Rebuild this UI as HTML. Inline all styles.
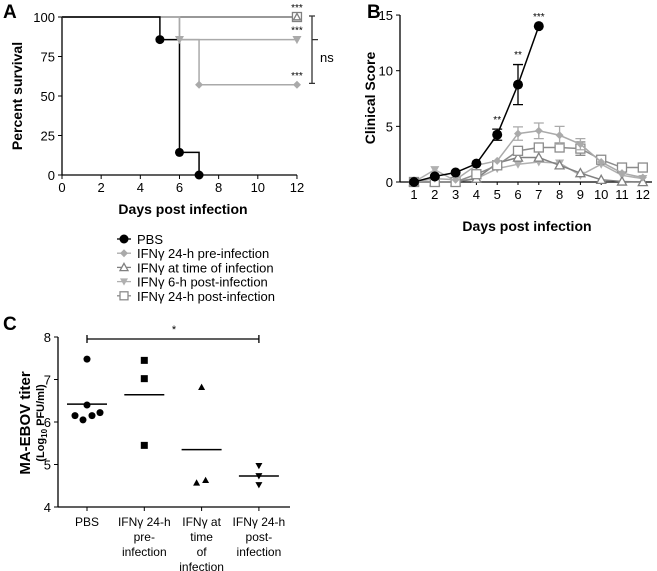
<!DOCTYPE html>
<html><head><meta charset="utf-8"><style>
html,body{margin:0;padding:0;background:#fff}
svg{display:block;font-family:"Liberation Sans",Arial,sans-serif}
</style></head><body>
<svg id="fig" width="657" height="571" viewBox="0 0 657 571" xmlns="http://www.w3.org/2000/svg">
<g id="A"></g>
<g id="B"></g>
<g id="L"></g>
<g id="C"></g>
</svg>
<script>
// ---- Panel A data ----
const aXTicks=[0,2,4,6,8,10,12];
const aYTicks=[0,25,50,75,100];
const pbsDays=[0,5,6,7];
const pbsSurv=[100,85.7,14.3,0];
const preDays=[0,6,7,12];
const preSurv=[100,85.7,57.1,57.1];
const sixDays=[0,6,12];
const sixSurv=[100,85.7,85.7];
const flatDays=[0,12];
const flatSurv=[100,100];
// ---- Panel B data ----
const bDays=[1,2,3,4,5,6,7,8,9,10,11,12];
const bYTicks=[0,5,10,15];
const pbsScore=[0,0.5,0.85,1.65,4.25,8.75,14];
const pbsErr=[0,0,0,0,0.5,1.8,0];
const preScore=[0,0.3,0.2,1.5,1.9,4.35,4.6,4.2,3.4,1.8,0.8,0.4];
const preErr=[0,0,0,0,0,0.6,0.7,0.8,0.5,0,0,0];
const atScore=[0,0,0,0.3,1.7,2.2,2.2,1.5,0.8,0.2,0.05,0];
const sixScore=[0,1.1,0.1,0.3,1.2,1.6,1.8,1.7,0.6,1.6,0.6,0.3];
const postScore=[0,0,0,0.7,1.5,2.8,3.1,3.1,3.0,2.0,1.3,1.3];
const postErr=[0,0,0,0,0,0,0,0,0.6,0,0,0];
// ---- Panel C data ----
const cCats=["PBS","IFNγ 24-h|pre-|infection","IFNγ at|time|of|infection","IFNγ 24-h|post-|infection"];
const cYTicks=[4,5,6,7,8];
const cPbs=[7.48,6.4,6.15,6.05,6.15,6.22];
const cPbsOff=[0,0,-12,-4,5,13];
const cPre=[7.45,7.02,5.45];
const cAt=[6.82,4.57,4.63];
const cAtOff=[0,-5,4];
const cPost=[4.97,4.73,4.52];
const cMeans=[6.42,6.64,5.35,4.73];

const NS="http://www.w3.org/2000/svg";
function el(p,t,a,txt){const e=document.createElementNS(NS,t);for(const k in a)e.setAttribute(k,a[k]);if(txt!==undefined)e.textContent=txt;p.appendChild(e);return e;}
function marker(p,type,x,y,c,s){
  let e;
  if(type==='circle')e=el(p,'circle',{cx:x,cy:y,r:s,fill:c});
  else if(type==='diamond')e=el(p,'polygon',{points:`${x},${y-s} ${x+s},${y} ${x},${y+s} ${x-s},${y}`,fill:c});
  else if(type==='tri')e=el(p,'polygon',{points:`${x},${y-s} ${x+s},${y+s*0.8} ${x-s},${y+s*0.8}`,fill:'#fff',stroke:c,'stroke-width':1.3});
  else if(type==='tridown')e=el(p,'polygon',{points:`${x-s},${y-s*0.8} ${x+s},${y-s*0.8} ${x},${y+s}`,fill:c});
  else if(type==='square')e=el(p,'rect',{x:x-s,y:y-s,width:2*s,height:2*s,fill:'#fff',stroke:c,'stroke-width':1.3});
  else if(type==='sqfill')e=el(p,'rect',{x:x-s,y:y-s,width:2*s,height:2*s,fill:c});
  else if(type==='trifill')e=el(p,'polygon',{points:`${x},${y-s} ${x+s},${y+s*0.8} ${x-s},${y+s*0.8}`,fill:c});
  return e;
}
const BLK='#000',LG='#aaaaaa',DG='#808080',MG='#9a9a9a';

// ===== Panel A =====
(function(){
const g=document.getElementById('A');
const X=d=>62+d*19.58, Y=v=>175-v*1.58;
el(g,'text',{x:3,y:18,'font-size':19,'font-weight':'bold',},'A');
el(g,'line',{x1:62,y1:Y(100),x2:62,y2:175,stroke:BLK,'stroke-width':1.3,});
el(g,'line',{x1:62,y1:175,x2:X(12),y2:175,stroke:BLK,'stroke-width':1.3,});
aYTicks.forEach(v=>{el(g,'line',{x1:58,x2:62,y1:Y(v),y2:Y(v),stroke:BLK});
 el(g,'text',{x:55,y:Y(v)+5,'font-size':13,'text-anchor':'end',},v);});
aXTicks.forEach(v=>{el(g,'line',{x1:X(v),x2:X(v),y1:175,y2:179,stroke:BLK});
 el(g,'text',{x:X(v),y:192,'font-size':13,'text-anchor':'middle',},v);});
el(g,'text',{x:183,y:214,'font-size':14,'font-weight':'bold','text-anchor':'middle',},'Days post infection');
el(g,'text',{transform:'translate(22,96) rotate(-90)','font-size':14,'font-weight':'bold','text-anchor':'middle',},'Percent survival');
function step(days,vals,c,name){let d=`M${X(days[0])},${Y(vals[0])}`;for(let i=1;i<days.length;i++){d+=`H${X(days[i])}V${Y(vals[i])}`;}
 el(g,'path',{d:d,fill:'none',stroke:c,'stroke-width':1.5,});}
step(flatDays,flatSurv,'#777','a-line-flat');
step(preDays,preSurv,LG,'a-line-pre');
step(sixDays,sixSurv,LG,'a-line-6h');
step(pbsDays,pbsSurv,BLK,'a-line-pbs');
for(let i=1;i<pbsDays.length;i++)marker(g,'circle',X(pbsDays[i]),Y(pbsSurv[i]),BLK,4.5);
marker(g,'diamond',X(preDays[2]),Y(preSurv[2]),LG,4);marker(g,'diamond',X(preDays[3]),Y(preSurv[3]),LG,4);
marker(g,'tridown',X(sixDays[1]),Y(sixSurv[1]),LG,4.5);marker(g,'tridown',X(sixDays[2]),Y(sixSurv[2]),LG,4.5);
marker(g,'square',X(12),Y(100),DG,4.5);marker(g,'tri',X(12),Y(100),DG,3.5);
[[100,8],[85.7,0],[57.1,0]].forEach(s=>el(g,'text',{x:X(12),y:Y(s[0])-6,'font-size':10,'text-anchor':'middle',},'***'));
el(g,'path',{d:`M309,${Y(100)-1}H315M312,${Y(100)-1}V${Y(58)}M309,${Y(58)}H315M312,${Y(85.7)}H318`,stroke:'#333','stroke-width':1.3,fill:'none',});
el(g,'text',{x:320,y:62,'font-size':13,},'ns');
})();

// ===== Panel B =====
(function(){
const g=document.getElementById('B');
const X=d=>414+(d-1)*20.8, Y=v=>182-v*11.13;
el(g,'text',{x:367,y:18,'font-size':19,'font-weight':'bold',},'B');
el(g,'line',{x1:400,y1:Y(15),x2:400,y2:182,stroke:BLK,'stroke-width':1.3,});
el(g,'line',{x1:400,y1:182,x2:652,y2:182,stroke:BLK,'stroke-width':1.3,});
bYTicks.forEach(v=>{el(g,'line',{x1:396,x2:400,y1:Y(v),y2:Y(v),stroke:BLK});
 el(g,'text',{x:393,y:Y(v)+5,'font-size':13,'text-anchor':'end',},v);});
bDays.forEach(v=>{el(g,'line',{x1:X(v),x2:X(v),y1:182,y2:185,stroke:BLK});
 el(g,'text',{x:X(v),y:199,'font-size':13,'text-anchor':'middle',},v);});
el(g,'text',{x:527,y:231,'font-size':14,'font-weight':'bold','text-anchor':'middle',},'Days post infection');
el(g,'text',{transform:'translate(375,98) rotate(-90)','font-size':14,'font-weight':'bold','text-anchor':'middle',},'Clinical Score');
function series(vals,errs,c,type,s,name){
 const pts=vals.map((v,i)=>`${X(bDays[i])},${Y(v)}`).join(' ');
 el(g,'polyline',{points:pts,fill:'none',stroke:c,'stroke-width':1.5,});
 if(errs)vals.forEach((v,i)=>{if(errs[i]>0){const x=X(bDays[i]);el(g,'path',{d:`M${x},${Y(v-errs[i])}V${Y(v+errs[i])}M${x-5},${Y(v+errs[i])}H${x+5}M${x-5},${Y(v-errs[i])}H${x+5}`,stroke:c,'stroke-width':1.3,fill:'none'});}});
 vals.forEach((v,i)=>marker(g,type,X(bDays[i]),Y(v),c,s));
}
series(sixScore,null,'#b0b0b0','tridown',4.5,'b-6h');
series(atScore,null,DG,'tri',4.5,'b-at-time');
series(postScore,postErr,'#8c8c8c','square',4.5,'b-24h-post');
series(preScore,preErr,LG,'diamond',4,'b-24h-pre');
series(pbsScore,pbsErr,BLK,'circle',5,'b-pbs');
[['**',5,4.75],['**',6,10.6],['***',7,14]].forEach(s=>el(g,'text',{x:X(s[1]),y:Y(s[2])-6,'font-size':10,'text-anchor':'middle',},s[0]));
})();

// ===== Legend =====
(function(){
const g=document.getElementById('L');
const items=[['circle',BLK,'PBS'],['diamond',LG,'IFNγ 24-h pre-infection'],['tri',DG,'IFNγ at time of infection'],['tridown','#b0b0b0','IFNγ 6-h post-infection'],['square','#8c8c8c','IFNγ 24-h post-infection']];
items.forEach((it,i)=>{const y=239+i*14.2;
 const row=el(g,'g',{});
 el(row,'line',{x1:117,x2:131,y1:y,y2:y,stroke:it[1],'stroke-width':1.3});
 marker(row,it[0],124,y,it[1],it[0]==='circle'?4.5:4);
 el(row,'text',{x:137,y:y+5,'font-size':13},it[2]);});
})();

// ===== Panel C =====
(function(){
const g=document.getElementById('C');
const X=i=>87+i*57.3, Y=v=>507-(v-4)*42.5;
el(g,'text',{x:3,y:330,'font-size':19,'font-weight':'bold',},'C');
el(g,'line',{x1:58,y1:Y(8),x2:58,y2:507,stroke:BLK,'stroke-width':1.3,});
el(g,'line',{x1:58,y1:507,x2:290,y2:507,stroke:BLK,'stroke-width':1.3,});
cYTicks.forEach(v=>{el(g,'line',{x1:54,x2:58,y1:Y(v),y2:Y(v),stroke:BLK});
 el(g,'text',{x:51,y:Y(v)+5,'font-size':13,'text-anchor':'end',},v);});
cCats.forEach((c,i)=>{el(g,'line',{x1:X(i),x2:X(i),y1:507,y2:511,stroke:BLK});
 c.split('|').forEach((ln,j)=>el(g,'text',{x:X(i),y:526+j*15,'font-size':12,'text-anchor':'middle',},ln));});
el(g,'text',{transform:'translate(30,423) rotate(-90)','font-size':15,'font-weight':'bold','text-anchor':'middle',},'MA-EBOV titer');
const sub=el(g,'text',{transform:'translate(44,423) rotate(-90)','font-size':11,'font-weight':'bold','text-anchor':'middle',});
sub.innerHTML='(Log<tspan dy="3" font-size="8">10</tspan><tspan dy="-3"> PFU/ml)</tspan>';
cPbs.forEach((v,i)=>marker(g,'circle',X(0)+cPbsOff[i],Y(v),BLK,3.5));
cPre.forEach(v=>marker(g,'sqfill',X(1),Y(v),BLK,3.5));
cAt.forEach((v,i)=>marker(g,'trifill',X(2)+cAtOff[i],Y(v),BLK,3.5));
cPost.forEach(v=>marker(g,'tridown',X(3),Y(v),BLK,3.5));
cMeans.forEach((m,i)=>el(g,'line',{x1:X(i)-20,x2:X(i)+20,y1:Y(m),y2:Y(m),stroke:BLK,'stroke-width':1.5,}));
el(g,'path',{d:`M${X(0)},335V343M${X(0)},339H${X(3)}M${X(3)},335V343`,stroke:BLK,'stroke-width':1.3,fill:'none',});
el(g,'text',{x:174,y:333,'font-size':11,'text-anchor':'middle',},'*');
})();
</script>
</body></html>
